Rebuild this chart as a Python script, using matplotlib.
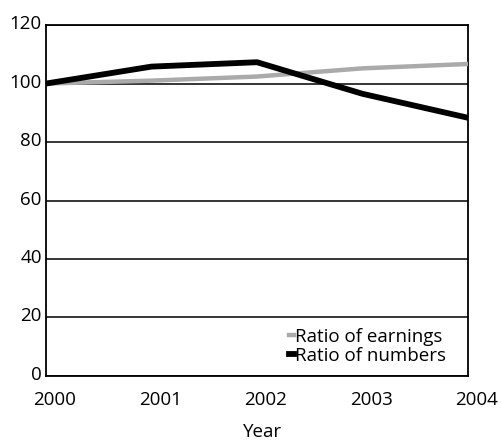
import matplotlib.pyplot as plt
import matplotlib.transforms as mtransforms

plt.rcParams['font.family'] = ['Open Sans', 'DejaVu Sans']

years = [2000, 2001, 2002, 2003, 2004]
earnings = [100, 101, 102.4, 105.2, 106.7]
numbers = [100, 105.8, 107.3, 96.5, 88.3]

fig = plt.figure(figsize=(5.02, 4.40), dpi=100)
ax = fig.add_axes([0.0916, 0.1455, 0.8406, 0.7975])

ax.plot(years, earnings, color='#aaaaaa', lw=3.2, label='Ratio of earnings', zorder=3)
ax.plot(years, numbers, color='black', lw=4.2, label='Ratio of numbers', zorder=4)

ax.set_xlim(2000, 2004)
ax.set_ylim(0, 120)
ax.set_xticks(years)
ax.set_yticks(range(0, 121, 20))
ax.yaxis.grid(True, color='black', lw=1.1)
ax.set_axisbelow(True)
ax.tick_params(length=0, labelsize=13.5)
ax.tick_params(axis='x', pad=11)
ax.tick_params(axis='y', pad=3)
for s in ax.spines.values():
    s.set_linewidth(1.3)
ax.set_xlabel('Year', fontsize=13.5, labelpad=10)

# year labels sit a little right of their gridpoints in the original
shift = mtransforms.ScaledTranslation(0.09, 0, fig.dpi_scale_trans)
for lbl in ax.get_xticklabels():
    lbl.set_transform(lbl.get_transform() + shift)
ax.xaxis.label.set_transform(ax.xaxis.label.get_transform()
                             + mtransforms.ScaledTranslation(0.06, 0, fig.dpi_scale_trans))
# y labels slightly raised
up = mtransforms.ScaledTranslation(0, 0.03, fig.dpi_scale_trans)
for lbl in ax.get_yticklabels():
    lbl.set_transform(lbl.get_transform() + up)

leg = ax.legend(loc='lower right', frameon=False, fontsize=13.5, handlelength=0.3,
                handletextpad=0.05, labelspacing=0.05, borderaxespad=0.2,
                bbox_to_anchor=(0.975, 0.0))

fig.savefig('out.png', dpi=100)
